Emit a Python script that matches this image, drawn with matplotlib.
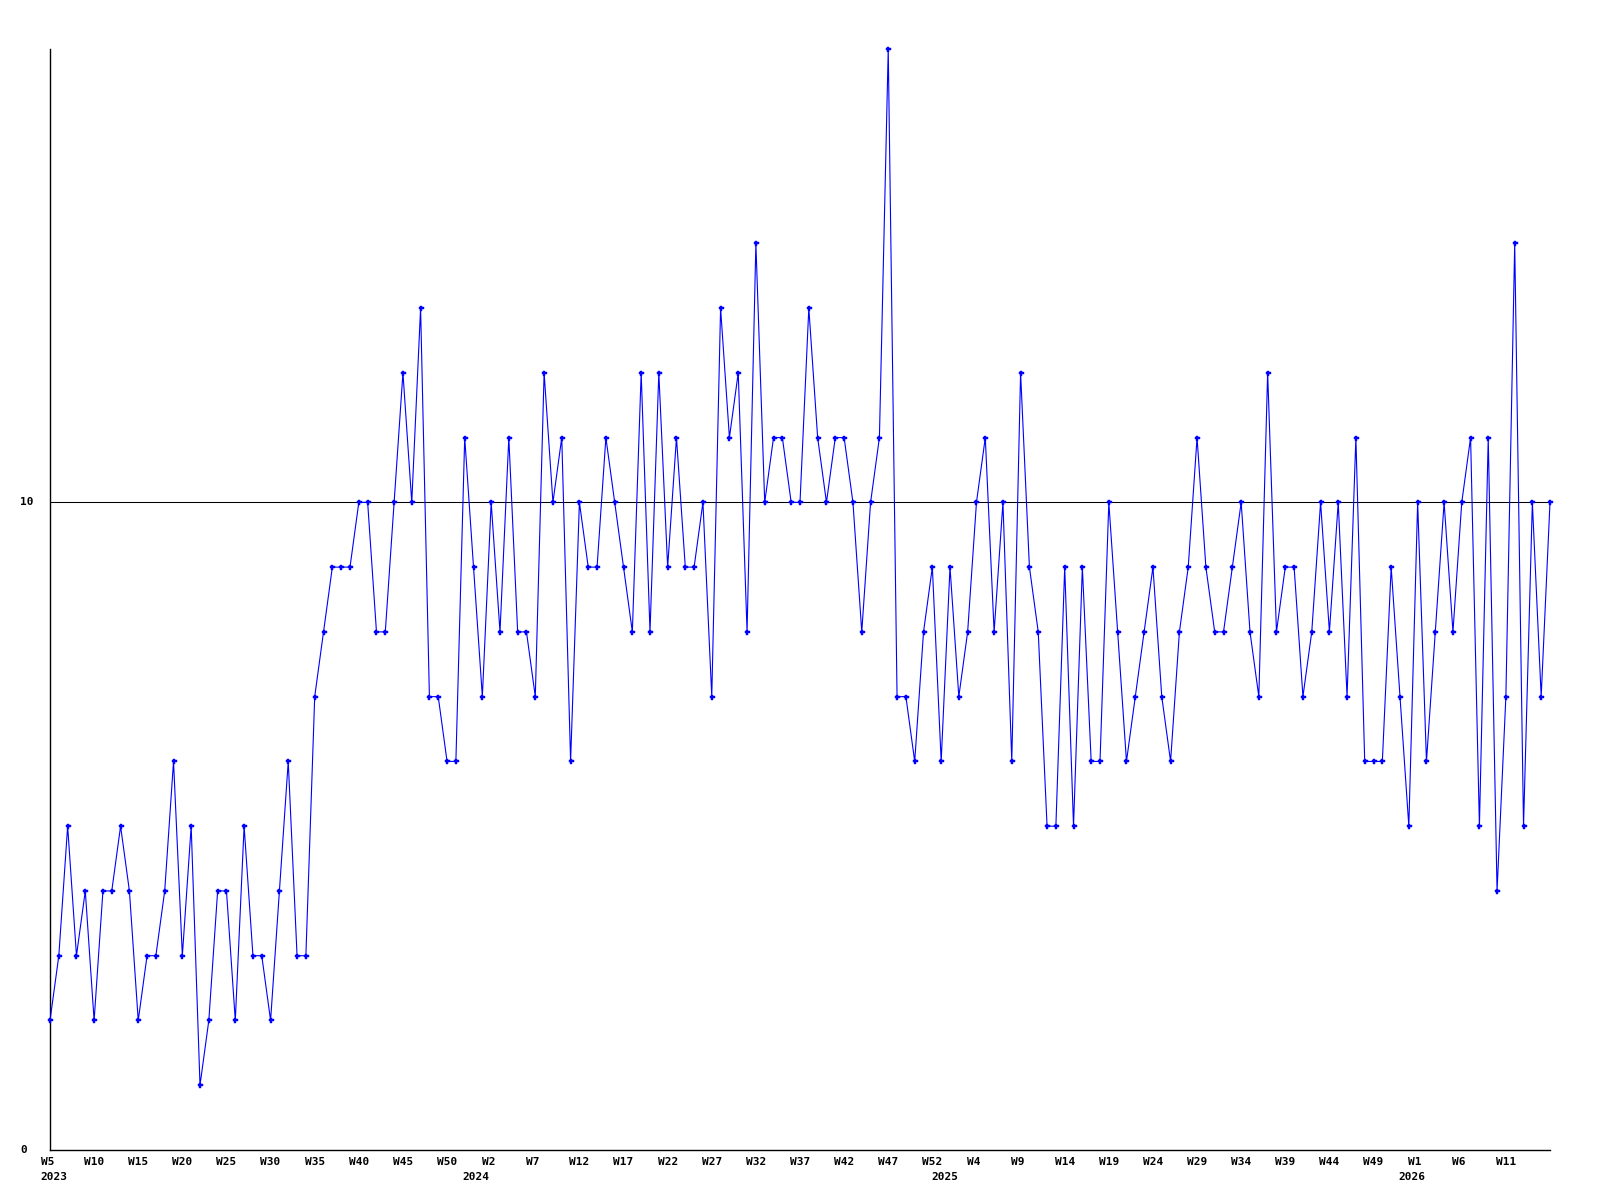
import numpy as np
import matplotlib
matplotlib.use('Agg')
import matplotlib.pyplot as plt
import matplotlib.transforms as mtransforms

# weekly values, 2023 W5 .. 2026 W16
values = [2, 3, 5, 3, 4, 2, 4, 4, 5, 4, 2, 3, 3, 4, 6, 3, 5, 1, 2, 4,
          4, 2, 5, 3, 3, 2, 4, 6, 3, 3,
          7, 8, 9, 9, 9, 10, 10, 8, 8, 10, 12, 10, 13, 7, 7, 6, 6, 11, 9, 7,
          10, 8, 11, 8, 8, 7, 12, 10, 11, 6,
          10, 9, 9, 11, 10, 9, 8, 12, 8, 12, 9, 11, 9, 9, 10, 7, 13, 11, 12, 8,
          14, 10, 11, 11, 10, 10, 13, 11, 10, 11, 11, 10, 8, 10, 11,
          17, 7, 7, 6, 8, 9, 6, 9, 7, 8, 10, 11, 8, 10, 6, 12, 9, 8, 5, 5,
          9, 5, 9, 6, 6, 10, 8, 6, 7,
          8, 9, 7, 6, 8, 9, 11, 9, 8, 8, 9, 10, 8, 7, 12, 8, 9, 9, 7, 8,
          10, 8, 10, 7, 11, 6, 6, 6, 9, 7, 5, 10, 6, 8, 10, 8, 10, 11, 5, 11,
          4, 7, 14, 5, 10, 7, 10]

week_labels = ['W5', 'W10', 'W15', 'W20', 'W25', 'W30', 'W35', 'W40', 'W45', 'W50',
               'W2', 'W7', 'W12', 'W17', 'W22', 'W27', 'W32', 'W37', 'W42', 'W47', 'W52',
               'W4', 'W9', 'W14', 'W19', 'W24', 'W29', 'W34', 'W39', 'W44', 'W49',
               'W1', 'W6', 'W11']
year_labels = ['2023', '2024', '2025', '2026']
year_pos = [0.4, 48.3, 101.4, 154.3]
ref_level = 10
y_max = 17

x = np.arange(len(values))
font = dict(family='DejaVu Sans Mono', fontweight='bold', fontsize=8)

fig = plt.figure(figsize=(16, 12), dpi=100)
ax = fig.add_axes([50 / 1600, 1 - 1150 / 1200, 1500 / 1600, 1101 / 1200])

ax.plot(x, values, color='#0000ff', lw=0.8, marker='P', ms=3.6,
        mec='#0000ff', mfc='#0000ff', mew=0.3, clip_on=False, zorder=3)
ax.axhline(ref_level, color='black', lw=0.75, zorder=2)

ax.set_xlim(0, len(values) - 1)
ax.set_ylim(0, y_max)
for s in ['top', 'right']:
    ax.spines[s].set_visible(False)
for s in ['left', 'bottom']:
    ax.spines[s].set_linewidth(1.0)
ax.set_xticks([])
ax.set_yticks([])

trans = mtransforms.blended_transform_factory(ax.transData, ax.transAxes)
for i, lab in enumerate(week_labels):
    # two-character labels sit a touch left, as in the original
    off = -0.3 if len(lab) == 2 else 0
    ax.text(i * 5 + off, -0.011, lab, transform=trans, ha='center', va='center', **font)
for p, lab in zip(year_pos, year_labels):
    ax.text(p, -0.0245, lab, transform=trans, ha='center', va='center', **font)

ytrans = mtransforms.blended_transform_factory(fig.transFigure, ax.transData)
for v in [0, ref_level]:
    ax.text(20 / 1600, v, str(v), transform=ytrans, ha='left', va='center', **font)

fig.savefig('out.png', dpi=100)
